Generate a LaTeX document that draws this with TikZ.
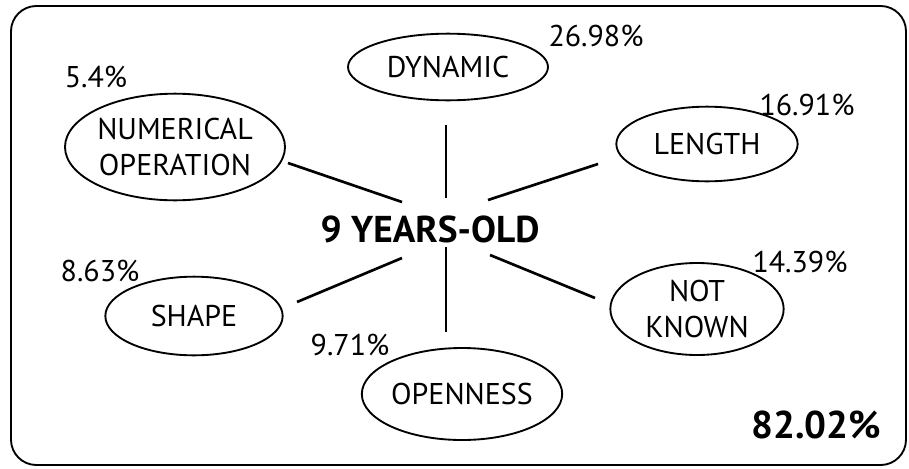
\documentclass[tikz,border=0pt]{standalone}
\usepackage{fontspec}
\setmainfont{PT Sans}
\usetikzlibrary{shapes.geometric,calc}

\begin{document}
\begin{tikzpicture}[x=0.75pt,y=-0.75pt,
  every node/.style={font=\fontsize{22.5}{27}\selectfont},
  cat/.style={draw,ellipse,line width=1.4pt,inner sep=0pt,align=center},
  pct/.style={font=\fontsize{22.5}{24}\selectfont},
  spoke/.style={line width=2pt}]
  \useasboundingbox (0,0) rectangle (909,468);
  \draw[line width=1.4pt,rounded corners=19pt] (11,6) rectangle (906,465);

  % centre and categories
  \node[font=\fontsize{28}{30}\selectfont\bfseries] (age) at (430,229) {9 YEARS-OLD};
  \coordinate (hub) at (446,228);
  \node[cat,minimum width=150pt,minimum height=50pt] (dyn) at (448,67) {DYNAMIC};
  \node[cat,minimum width=165pt,minimum height=80pt] (num) at (175,147) {NUMERICAL\\OPERATION};
  \node[cat,minimum width=136pt,minimum height=56pt] (len) at (707,144) {LENGTH};
  \node[cat,minimum width=133pt,minimum height=59pt] (shp) at (194,316) {SHAPE};
  \node[cat,minimum width=149pt,minimum height=69pt] (opn) at (462,394) {OPENNESS};
  \node[cat,minimum width=130pt,minimum height=69pt] (nk) at (697,309) {NOT\\KNOWN};

  % percentages
  \node[pct] (pdyn) at (596,36) {26.98\%};
  \node[pct] (pnum) at (96,77) {5.4\%};
  \node[pct] (plen) at (807,105) {16.91\%};
  \node[pct] (pshp) at (100,271) {8.63\%};
  \node[pct] (popn) at (350,345) {9.71\%};
  \node[pct] (pnk) at (800,262) {14.39\%};
  \node[font=\fontsize{29}{30}\selectfont\bfseries] (total) at (816,425) {82.02\%};

  % spokes
  \draw[spoke] ($(hub)+(0,-30)$) -- ($(dyn)+(-2,58)$);
  \draw[spoke] ($(hub)+(-44,-26)$) -- ($(num)+(113,16)$);
  \draw[spoke] ($(hub)+(42,-28)$) -- ($(len)+(-109,20)$);
  \draw[spoke] ($(hub)+(-44,30)$) -- ($(shp)+(103,-14)$);
  \draw[spoke] ($(hub)+(0,19)$) -- ($(opn)+(-16,-62)$);
  \draw[spoke] ($(hub)+(44,27)$) -- ($(nk)+(-102,-11)$);
\end{tikzpicture}
\end{document}
